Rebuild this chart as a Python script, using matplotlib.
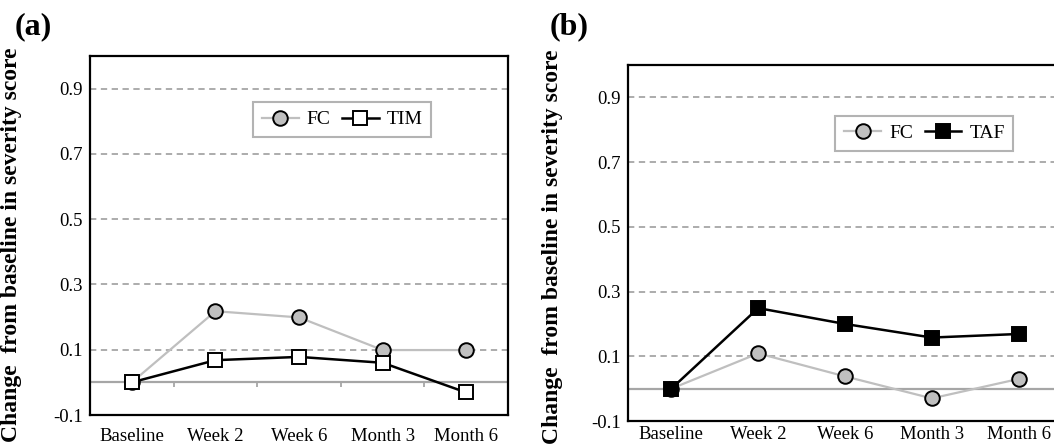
import matplotlib
matplotlib.use("Agg")
import matplotlib.pyplot as plt
import numpy as np

plt.rcParams['font.family'] = ['Liberation Serif', 'DejaVu Serif']

# data
visits = ['Baseline', 'Week 2', 'Week 6', 'Month 3', 'Month 6']
fc_a = [0.0, 0.218, 0.199, 0.099, 0.099]
tim_a = [0.0, 0.068, 0.078, 0.060, -0.031]
fc_b = [0.0, 0.109, 0.038, -0.030, 0.030]
taf_b = [0.0, 0.249, 0.200, 0.158, 0.169]
yticks = [-0.1, 0.1, 0.3, 0.5, 0.7, 0.9]
ylabel = 'Change  from baseline in severity score'

gray_line = '#bfbfbf'
grid_col = '#a6a6a6'

fig = plt.figure(figsize=(10.54, 4.46), dpi=100)
ax_a = fig.add_axes([0.0854, 0.0695, 0.3966, 0.805])
ax_b = fig.add_axes([0.5958, 0.056, 0.4118, 0.798])


def draw_panel(ax, fc, other, other_name, other_face, leg_xy, show_ticks, xpad):
    x = np.arange(len(visits))
    ax.set_xlim(-0.5, len(visits) - 0.5)
    ax.set_ylim(-0.1, 1.0)
    # dashed grid lines + solid zero line
    for y in yticks[1:]:
        ax.axhline(y, color=grid_col, lw=1.3, ls=(0, (3.5, 2.5)), zorder=1)
    ax.axhline(0, color=grid_col, lw=1.6, zorder=1)
    if show_ticks:
        ax.vlines(x[:-1] + 0.5, -0.014, 0, color=grid_col, lw=1.3, zorder=1)

    ax.plot(x, fc, color=gray_line, lw=1.6, marker='o', ms=10.5,
            mfc='#c0c0c0', mec='black', mew=1.4, label='FC', zorder=3)
    ax.plot(x, other, color='black', lw=1.8, marker='s', ms=10.5,
            mfc=other_face, mec='black', mew=1.4, label=other_name, zorder=4)

    ax.set_xticks(x)
    ax.set_xticklabels(visits, fontsize=13.5)
    ax.set_yticks(yticks)
    ax.set_yticklabels([f'{v:.1f}' for v in yticks], fontsize=13.5)
    ax.tick_params(axis='x', length=0, pad=xpad)
    ax.tick_params(axis='y', length=0, pad=5)
    for s in ax.spines.values():
        s.set_linewidth(1.6)
        s.set_color('black')

    leg = ax.legend(loc='center', bbox_to_anchor=leg_xy, ncol=2, fontsize=14,
                    frameon=True, fancybox=False, handlelength=1.9,
                    handletextpad=0.4, columnspacing=0.6, borderpad=0.45)
    leg.get_frame().set_edgecolor('#a0a0a0')
    leg.get_frame().set_linewidth(1.5)


draw_panel(ax_a, fc_a, tim_a, 'TIM', 'white', (0.603, 0.823), True, 9)
draw_panel(ax_b, fc_b, taf_b, 'TAF', 'black', (0.683, 0.809), False, 3.5)

ax_a.set_ylabel(ylabel, fontsize=17, fontweight='bold')
ax_a.yaxis.set_label_coords(-0.163, 0.474)
ax_b.set_ylabel(ylabel, fontsize=17, fontweight='bold')
ax_b.yaxis.set_label_coords(-0.150, 0.49)

fig.text(0.014, 0.972, '(a)', fontsize=23, fontweight='bold', va='top')
fig.text(0.521, 0.972, '(b)', fontsize=23, fontweight='bold', va='top')

fig.savefig('out.png', dpi=100)
